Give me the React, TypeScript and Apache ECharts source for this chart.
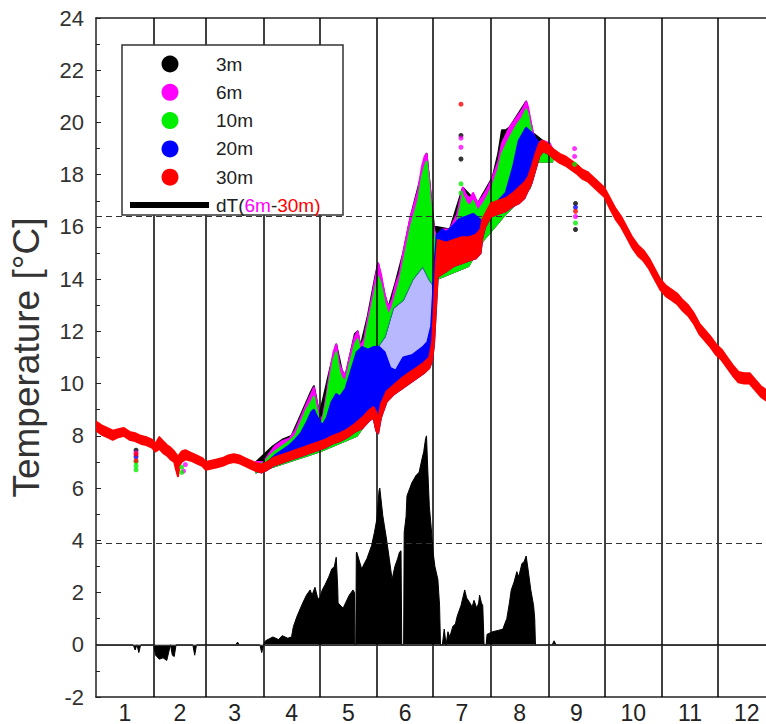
import React, { useEffect, useRef } from "react";
import * as echarts from "echarts";

// ---------- axes / categories ----------
const monthLabels = ["1", "2", "3", "4", "5", "6", "7", "8", "9", "10", "11", "12"];
const monthCenters = [15.5, 45, 74.5, 105, 135.5, 166, 196.5, 227.5, 258, 288.5, 319, 349.5];
const monthBounds = [31, 59, 90, 120, 151, 181, 212, 243, 273, 304, 334];
const refLevels = [16.4, 3.9];

// ---------- 30 m (red) band: day, upper edge, lower edge ----------
const t30Days = [0, 3, 6, 9, 12, 15, 18, 21, 24, 27, 30, 32, 34, 36, 38, 40, 42, 43, 44, 45, 46, 48, 51, 54, 57, 59, 62, 65, 68, 71, 74, 77, 80, 83, 86, 89, 92, 95, 99, 103, 107, 111, 115, 119, 123, 127, 131, 135, 139, 143, 147, 149, 150.5, 151.5, 153, 156, 160, 164, 168, 172, 176, 179, 180.5, 181.5, 182.5, 183.5, 188, 192, 196, 200, 204, 206.5, 207.5, 209, 212, 216, 220, 224, 227, 230, 232, 234, 236, 238, 240, 243, 246, 249, 252, 255, 258, 261, 264, 267, 270, 273, 276, 279, 282, 285, 288, 291, 294, 297, 300, 303, 306, 309, 312, 315, 318, 321, 324, 327, 330, 333, 336, 339, 342, 345, 348, 351, 354, 357, 360];
const t30Upper = [8.55, 8.4, 8.3, 8.2, 8.25, 8.3, 8.15, 8.1, 8.0, 7.95, 7.85, 7.7, 7.95, 7.8, 7.65, 7.55, 7.4, 7.3, 7.2, 7.3, 7.4, 7.45, 7.35, 7.25, 7.15, 7.0, 7.05, 7.1, 7.15, 7.25, 7.3, 7.25, 7.15, 7.05, 6.95, 6.9, 7.0, 7.15, 7.25, 7.35, 7.45, 7.55, 7.65, 7.75, 7.85, 8.0, 8.1, 8.25, 8.45, 8.7, 9.0, 9.1, 8.9, 8.6, 9.2, 9.7, 9.95, 10.2, 10.4, 10.6, 10.8, 11.0, 11.6, 13.0, 14.6, 15.5, 15.4, 15.5, 15.6, 15.6, 15.7, 15.9, 16.3, 16.5, 16.9, 17.0, 17.1, 17.3, 17.5, 17.7, 17.9, 18.3, 18.8, 19.2, 19.3, 19.15, 18.95, 18.8, 18.7, 18.55, 18.4, 18.2, 18.1, 17.9, 17.7, 17.5, 17.1, 16.7, 16.4, 16.0, 15.6, 15.3, 15.1, 14.8, 14.4, 14.0, 13.75, 13.6, 13.45, 13.2, 13.0, 12.7, 12.3, 12.05, 11.8, 11.5, 11.3, 11.0, 10.7, 10.45, 10.4, 10.4, 10.15, 9.9, 9.75];
const t30Lower = [8.2, 8.05, 7.95, 7.85, 7.95, 8.0, 7.85, 7.8, 7.7, 7.65, 7.55, 7.4, 7.5, 7.35, 7.25, 7.1, 7.0, 6.7, 6.45, 6.9, 7.0, 7.1, 7.05, 6.95, 6.85, 6.7, 6.75, 6.8, 6.85, 6.95, 7.0, 6.95, 6.85, 6.75, 6.65, 6.6, 6.7, 6.85, 6.95, 7.05, 7.15, 7.25, 7.35, 7.45, 7.55, 7.7, 7.8, 7.95, 8.15, 8.3, 8.6, 8.7, 8.2, 8.1, 8.7, 9.3, 9.6, 9.8, 10.0, 10.2, 10.4, 10.6, 10.9, 11.5, 12.8, 14.1, 14.3, 14.5, 14.6, 14.7, 14.8, 15.0, 15.6, 16.0, 16.4, 16.5, 16.6, 16.8, 16.9, 17.1, 17.4, 17.7, 18.2, 18.7, 18.9, 18.8, 18.6, 18.45, 18.35, 18.2, 18.05, 17.85, 17.75, 17.55, 17.35, 17.15, 16.7, 16.3, 16.0, 15.6, 15.2, 14.9, 14.7, 14.4, 14.0, 13.6, 13.35, 13.2, 13.05, 12.8, 12.6, 12.3, 11.9, 11.65, 11.4, 11.1, 10.9, 10.6, 10.3, 10.05, 10.0, 10.0, 9.75, 9.5, 9.35];

// ---------- 20 m (blue): dense upper edge, sparse upper edge (June) ----------
const t20Upper = [[86, 6.85], [90, 6.9], [93, 7.05], [96, 7.25], [100, 7.45], [104, 7.65], [107, 7.85], [110, 8.1], [113, 8.5], [115.5, 8.9], [117, 9.0], [119, 8.7], [121.5, 8.4], [124, 8.7], [126.5, 9.3], [129, 9.6], [131, 9.5], [134, 9.8], [137, 10.5], [140, 11.2], [143, 11.4], [146, 11.3], [149, 11.4], [152, 11.4], [155, 11.2], [158, 10.6], [161, 10.5], [165, 11.0], [170, 11.1], [175.5, 11.4], [178, 11.6], [180, 12.2], [181, 13.5], [182, 14.8], [183, 15.7], [186, 15.9], [188, 15.8], [191, 16.0], [195, 16.3], [199, 16.4], [202.5, 16.5], [206, 16.3], [208, 16.2], [212.5, 16.5], [216, 17.0], [220, 17.3], [224, 18.3], [227, 19.3], [231, 19.8], [234, 19.6], [237, 19.3], [240, 19.1], [243, 19.0], [245, 18.9]];
const t20Sparse = [[148, 11.4], [152, 11.5], [155, 11.8], [159.5, 12.9], [164.8, 13.2], [170, 14.0], [175.5, 14.5], [179, 14.0], [181, 13.8], [182, 13.0]];

// ---------- 10 m (green): upper and lower edge of dense band ----------
const t10Upper = [[86, 6.9], [90, 6.95], [93, 7.2], [96, 7.4], [100, 7.6], [104, 7.8], [107, 8.0], [110, 8.5], [113, 9.0], [115.5, 9.3], [117, 9.5], [118.5, 9.0], [120, 8.6], [121.5, 8.5], [123.5, 9.2], [125.5, 10.1], [127.5, 10.9], [129, 11.2], [130.5, 10.5], [132, 10.2], [134, 10.1], [136.5, 10.8], [139, 11.5], [140.5, 11.7], [142, 11.2], [144, 11.4], [146, 12.2], [148, 12.9], [150, 13.6], [151.5, 14.1], [153, 13.8], [155, 13.1], [157, 12.6], [159, 12.9], [161, 13.4], [163, 13.9], [165, 14.6], [167, 15.3], [169, 16.0], [171, 16.5], [173, 17.0], [175, 17.9], [176.5, 18.3], [177.5, 18.5], [178.5, 17.8], [179.5, 17.0], [180.5, 16.3], [181.5, 15.6], [183, 15.3], [186, 15.6], [190, 15.6], [194, 16.2], [197, 17.2], [199, 16.9], [201, 16.8], [202.5, 17.0], [205, 16.6], [208, 16.9], [210.5, 17.2], [213, 17.6], [216, 18.2], [218, 18.8], [220, 19.1], [222, 19.4], [226, 19.9], [229, 20.2], [231, 20.5], [232, 20.3], [233, 19.9], [234.6, 19.4], [236.7, 19.1], [240, 19.2], [243.7, 19.1], [245, 18.9]];
const t10Lower = [[86, 6.6], [120, 7.4], [140, 8.0], [146, 8.6], [148, 10.8], [150, 11.3], [152, 11.5], [155, 11.8], [159.5, 12.9], [164.8, 13.2], [170, 14.0], [175.5, 14.5], [179, 14.0], [181, 13.8], [182, 12.5], [183, 14.0], [200, 14.5], [208, 15.5], [220, 16.5], [227, 17.0], [233, 17.5], [237, 18.5], [245, 18.5]];

// ---------- 6 m (magenta) and 3 m (black) upper edges ----------
const t6Upper = [[86, 7.0], [90, 7.0], [93, 7.3], [96, 7.6], [100, 7.8], [104, 7.9], [107, 8.2], [110, 8.7], [113, 9.2], [115.5, 9.6], [117, 9.85], [118.5, 9.3], [120, 8.8], [121.5, 8.6], [123.5, 9.4], [125.5, 10.4], [127.5, 11.2], [129, 11.5], [130.5, 10.8], [132, 10.5], [134, 10.3], [136.5, 11.1], [139, 11.8], [140.5, 12.0], [142, 11.4], [144, 11.7], [146, 12.5], [148, 13.2], [150, 14.0], [151.5, 14.6], [153, 14.2], [155, 13.4], [157, 12.9], [159, 13.2], [161, 13.8], [163, 14.2], [165, 15.0], [167, 15.7], [169, 16.4], [171, 16.9], [173, 17.4], [175, 18.3], [176.5, 18.7], [177.5, 18.8], [178.5, 18.1], [179.5, 17.4], [180.5, 16.6], [181.5, 15.9], [183, 15.6], [186, 15.9], [190, 15.9], [194, 16.5], [197, 17.5], [199, 17.2], [201, 17.1], [202.5, 17.3], [205, 16.9], [208, 17.2], [210.5, 17.5], [213, 17.9], [216, 18.5], [218, 19.2], [220, 19.5], [222, 19.8], [226, 20.2], [229, 20.5], [231, 20.8], [232, 20.6], [233, 20.2], [234.6, 19.6], [236.7, 19.2], [240, 19.3], [243.7, 19.2], [245, 19.0]];
const t3Upper = [[86, 7.0], [95, 7.6], [100, 7.85], [105, 8.0], [110, 8.8], [115.5, 9.7], [117, 9.9], [120, 8.8], [125.5, 10.5], [129, 11.5], [132, 10.5], [134, 10.3], [139, 11.9], [140.5, 12.0], [142, 11.4], [146, 12.6], [150, 14.1], [151.5, 14.6], [155, 13.4], [157, 12.9], [161, 13.9], [165, 15.0], [169, 16.4], [173, 17.5], [177.5, 18.8], [179.5, 17.4], [181.5, 16.0], [183, 16.0], [190, 15.9], [197, 17.5], [205, 16.9], [213, 17.9], [216, 18.8], [218, 19.7], [220, 19.7], [222, 19.8], [231, 20.8], [234.6, 19.6], [245, 19.0]];

// ---------- isolated readings ----------
const t3Dots = [[21.5, 7.45], [196, 19.5], [196, 18.6], [257.5, 16.9], [257.5, 15.9]];
const t6Dots = [[21.5, 7.35], [47, 6.65], [48, 6.9], [196, 19.4], [196, 19.05], [257.5, 16.4], [257, 19.0], [257, 18.7]];
const t10Dots = [[21.5, 7.0], [21.5, 6.85], [21.5, 6.7], [46, 6.6], [46, 6.8], [196, 17.65], [196, 17.3], [257.5, 16.15], [257, 18.4]];
const t20Dots = [[21.5, 7.2], [257.5, 16.75]];
const t30Dots = [[21.5, 7.3], [21.5, 7.05], [196, 20.7], [257.5, 16.6]];

// ---------- dT (6m - 30m) ----------
const dT = [[0, 0], [20, 0], [21, -0.2], [22, 0], [23, -0.3], [24, 0], [31, 0], [32, -0.4], [34, -0.55], [36, -0.5], [38, -0.6], [39, -0.3], [40, 0], [41, -0.4], [42, -0.45], [43, 0], [52, 0], [53, -0.4], [54, 0], [75, 0], [76, 0.1], [77, 0], [88, 0], [89, -0.3], [90, 0], [91, 0.15], [95, 0.3], [98, 0.2], [100, 0.35], [103, 0.25], [105, 0.3], [106, 0.7], [108, 1.1], [111, 1.6], [113, 1.9], [115, 2.1], [116, 1.9], [117.6, 2.2], [119, 1.8], [120, 1.75], [121.5, 2.1], [123, 2.3], [125, 2.6], [126.6, 2.9], [128, 3.0], [129, 3.35], [129.8, 2.2], [130, 1.6], [132.7, 1.4], [134, 1.6], [136, 1.9], [138, 2.1], [138.8, 2.0], [139, 0], [139.5, 0], [139.8, 3.5], [140, 3.55], [142.7, 2.9], [144, 3.1], [145.5, 3.3], [148, 3.8], [149.5, 4.3], [150.8, 4.8], [152, 5.9], [152.4, 6.0], [154, 4.95], [156, 4.05], [157.5, 3.3], [159, 2.5], [160.5, 3.0], [162, 3.3], [163, 3.55], [163.8, 3.6], [164.2, 0], [165.2, 0], [165.5, 4.3], [166.5, 4.9], [167, 5.7], [169.6, 6.2], [172, 6.5], [173.5, 6.6], [175, 7.1], [176, 7.4], [177, 7.9], [177.5, 8.0], [178, 7.0], [179, 5.3], [180, 4.5], [181, 3.55], [182, 3.0], [183.6, 2.5], [184.5, 1.5], [185, 0], [186, 0], [187, 0.6], [188, 0], [189, 0.5], [190, 0.3], [191.6, 0.7], [193, 0.8], [194, 1.1], [196, 1.5], [197, 1.8], [198, 2.1], [199, 1.8], [200.8, 1.6], [202, 1.45], [203, 1.7], [204.5, 1.4], [205.5, 1.6], [206, 1.9], [207, 1.6], [207.7, 1.5], [208.4, 0], [209.5, 0], [210, 0.4], [213, 0.5], [216, 0.55], [218.5, 0.6], [219.5, 0.8], [220.6, 1.0], [222, 1.6], [223, 2.1], [224.5, 2.4], [226, 2.8], [227, 2.6], [228.7, 3.1], [230, 3.2], [231, 3.4], [232, 2.9], [233.5, 2.1], [235, 1.5], [235.6, 1.0], [236, 0], [245, 0], [246, 0.15], [247, 0], [360, 0]];

const COLORS = { d3: "#000000", d6: "#ff00ff", d10: "#00ee00", d20: "#0000ff", d30: "#ff0000" };
const FONT = "'Liberation Sans', Arial, sans-serif";

const inRange = (arr: number[][], a: number, b: number) => arr.filter((p) => p[0] >= a && p[0] <= b);
const t30UpperPts = t30Days.map((d, i) => [d, t30Upper[i]]);
const t30LowerPts = t30Days.map((d, i) => [d, t30Lower[i]]);

function band(name: string, upper: number[][], lower: number[][], color: string, z: number, opacity = 1, lw = 2) {
  return {
    type: "custom",
    name,
    z,
    silent: true,
    clip: true,
    data: [[0, 0]],
    renderItem: (_p: any, api: any) => {
      const pts = upper.map((p) => api.coord(p)).concat(lower.slice().reverse().map((p) => api.coord(p)));
      return {
        type: "polygon",
        shape: { points: pts },
        style: { fill: color, stroke: lw > 0 ? color : null, lineWidth: lw, lineJoin: "round", opacity },
      };
    },
  };
}

function dots(name: string, data: number[][], color: string, z: number) {
  return { type: "scatter", name, data, z, symbolSize: 5, itemStyle: { color }, silent: true };
}

export default function App() {
  const ref = useRef<HTMLDivElement>(null);
  useEffect(() => {
    if (!ref.current) return;
    const chart = echarts.init(ref.current, null, { renderer: "svg" });
    const legendRows = [
      { label: "3m", color: COLORS.d3 },
      { label: "6m", color: COLORS.d6 },
      { label: "10m", color: COLORS.d10 },
      { label: "20m", color: COLORS.d20 },
      { label: "30m", color: COLORS.d30 },
    ];
    const legendEls: any[] = [
      { type: "rect", shape: { x: 122, y: 45, width: 221, height: 170 }, style: { fill: "#fff", stroke: "#333", lineWidth: 1.5 } },
    ];
    legendRows.forEach((r, i) => {
      const cy = 64 + i * 28.3;
      legendEls.push({ type: "circle", shape: { cx: 170, cy, r: 8.5 }, style: { fill: r.color } });
      legendEls.push({ type: "text", x: 216, y: cy, style: { text: r.label, font: `19px ${FONT}`, fill: "#222", verticalAlign: "middle" } });
    });
    legendEls.push({ type: "line", shape: { x1: 130, y1: 205, x2: 209, y2: 205 }, style: { stroke: "#000", lineWidth: 6 } });
    legendEls.push({
      type: "text",
      x: 216,
      y: 205,
      style: {
        text: "{a|dT(}{m|6m}{a|-}{r|30m)}",
        verticalAlign: "middle",
        font: `19px ${FONT}`,
        rich: {
          a: { fill: "#222", font: `19px ${FONT}` },
          m: { fill: COLORS.d6, font: `19px ${FONT}` },
          r: { fill: COLORS.d30, font: `19px ${FONT}` },
        },
      },
    });

    const option: any = {
      animation: false,
      grid: { left: 96, right: 0, top: 18, bottom: 26, containLabel: false },
      xAxis: [
        {
          type: "value",
          min: 0,
          max: 359.8,
          position: "bottom",
          axisLine: { show: true, onZero: false, lineStyle: { color: "#222", width: 1.5 } },
          axisTick: { show: false },
          splitLine: { show: false },
          axisLabel: {
            customValues: monthCenters,
            formatter: (v: number) => monthLabels[monthCenters.indexOf(v)] ?? "",
            fontSize: 23,
            fontFamily: FONT,
            color: "#222",
            margin: 4,
          },
        },
        {
          type: "value",
          min: 0,
          max: 359.8,
          position: "top",
          axisLine: { show: true, onZero: false, lineStyle: { color: "#222", width: 1.5 } },
          axisTick: { show: false },
          axisLabel: { show: false },
          splitLine: { show: false },
        },
      ],
      yAxis: {
        type: "value",
        min: -2,
        max: 24,
        interval: 2,
        name: "Temperature [°C]",
        nameLocation: "middle",
        nameGap: 51,
        nameTextStyle: { fontSize: 37, fontFamily: FONT, color: "#333" },
        axisLine: { show: true, onZero: false, lineStyle: { color: "#222", width: 1.5 } },
        axisTick: { show: true, inside: true, length: 5, lineStyle: { color: "#222" } },
        minorTick: { show: true, splitNumber: 2, length: 4, lineStyle: { color: "#222" } },
        splitLine: { show: false },
        axisLabel: { fontSize: 22, fontFamily: FONT, color: "#333", margin: 12 },
      },
      graphic: legendEls.map((e) => ({ ...e, z: 100 })),
      series: [
        {
          type: "line",
          name: "dT(6m-30m)",
          data: dT,
          z: 1,
          symbol: "none",
          lineStyle: { color: "#000", width: 1 },
          areaStyle: { color: "#000", opacity: 1 },
          silent: true,
          markLine: {
            silent: true,
            symbol: ["none", "none"],
            label: { show: false },
            data: [
              ...monthBounds.map((b) => ({ xAxis: b, lineStyle: { color: "#000", width: 1.5, type: "solid" } })),
              ...refLevels.map((l) => ({ yAxis: l, lineStyle: { color: "#333", width: 1, type: [6, 4] } })),
              { yAxis: 0, lineStyle: { color: "#333", width: 1, type: "solid" } },
            ],
          },
        },
        band("3m", t3Upper, t10Lower, COLORS.d3, 2),
        band("6m", t6Upper, t10Lower, COLORS.d6, 3),
        band("10m", t10Upper, t10Lower, COLORS.d10, 4),
        band("20m sparse", t20Sparse, inRange(t20Upper, 148, 182), COLORS.d20, 5, 0.28, 0),
        band("20m", t20Upper, inRange(t30LowerPts, 86, 245), COLORS.d20, 6),
        band("30m", t30UpperPts, t30LowerPts, COLORS.d30, 7, 1, 2),
        dots("3m pts", t3Dots, COLORS.d3, 8),
        dots("6m pts", t6Dots, COLORS.d6, 9),
        dots("10m pts", t10Dots, COLORS.d10, 10),
        dots("20m pts", t20Dots, COLORS.d20, 11),
        dots("30m pts", t30Dots, COLORS.d30, 12),
      ],
    };
    chart.setOption(option);
    return () => chart.dispose();
  }, []);
  return <div ref={ref} style={{ position: "absolute", left: 0, top: 0, width: 766, height: 724, background: "#fff" }} />;
}
